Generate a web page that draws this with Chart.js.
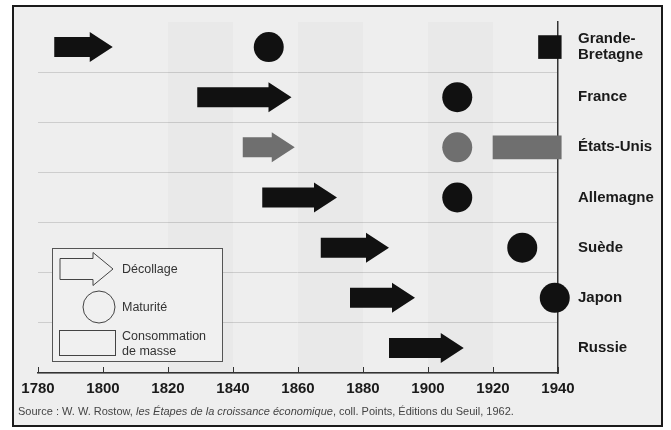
<!DOCTYPE html>
<html>
<head>
<meta charset="utf-8">
<script src="https://cdn.jsdelivr.net/npm/chart.js@4.4.1/dist/chart.umd.min.js"></script>
<style>
  html, body { margin: 0; padding: 0; background: #fff; width: 671px; height: 430px; overflow: hidden; }
  #frame { position: absolute; left: 12px; top: 5px; width: 647px; height: 418px; border: 2px solid #1a1a1a; background: #eeeeee; }
  #graph { position: absolute; left: 0; top: 0; }
  #source { position: absolute; left: 4px; top: 398px; font: 11px "Liberation Sans", Arial, sans-serif; color: #444; white-space: nowrap; }
</style>
</head>
<body>
<div id="frame">
  <canvas id="graph" width="647" height="418"></canvas>
  <div id="source">Source : W. W. Rostow, <i>les Étapes de la croissance économique</i>, coll. Points, Éditions du Seuil, 1962.</div>
</div>
<script>
// pays, de haut en bas
const categories = ['Grande-Bretagne', 'France', 'États-Unis', 'Allemagne', 'Suède', 'Japon', 'Russie'];
const tickLabels = [['Grande-', 'Bretagne'], 'France', 'États-Unis', 'Allemagne', 'Suède', 'Japon', 'Russie'];
// décollage : début et fin de la flèche
const takeoff = [[1785, 1803], [1829, 1858], [1843, 1859], [1849, 1872], [1867, 1888], [1876, 1896], [1888, 1911]];
// maturité
const maturity = [1851, 1909, 1909, 1909, 1929, 1939, null];
// consommation de masse
const massCons = [[1934, 1941], null, [1920, 1941], null, null, null, null];
const years = [1780, 1800, 1820, 1840, 1860, 1880, 1900, 1920, 1940];
const bands = [[1820, 1840], [1860, 1880], [1900, 1920]];

const grey = 'États-Unis';
function colorFor(name) { return name === grey ? '#6f6f6f' : '#111'; }

const bgBands = {
  id: 'bgBands',
  beforeDatasetsDraw(chart) {
    const {ctx, chartArea, scales} = chart;
    ctx.save();
    ctx.fillStyle = 'rgba(0,0,0,0.02)';
    bands.forEach(b => {
      const x1 = scales.x.getPixelForValue(b[0]);
      const x2 = scales.x.getPixelForValue(b[1]);
      ctx.fillRect(x1, chartArea.top, x2 - x1, chartArea.bottom - chartArea.top);
    });
    ctx.restore();
  }
};

function arrowPath(ctx, x0, x1, y, body, head, headLen) {
  ctx.beginPath();
  ctx.moveTo(x0, y - body / 2);
  ctx.lineTo(x1 - headLen, y - body / 2);
  ctx.lineTo(x1 - headLen, y - head / 2);
  ctx.lineTo(x1, y);
  ctx.lineTo(x1 - headLen, y + head / 2);
  ctx.lineTo(x1 - headLen, y + body / 2);
  ctx.lineTo(x0, y + body / 2);
  ctx.closePath();
}

const arrows = {
  id: 'arrows',
  afterDatasetsDraw(chart) {
    const ctx = chart.ctx;
    const meta = chart.getDatasetMeta(0);
    ctx.save();
    meta.data.forEach((bar, i) => {
      if (!takeoff[i]) return;
      const p = bar.getProps(['x', 'y', 'base', 'height'], true);
      arrowPath(ctx, p.base, p.x, p.y, p.height, 30, 23);
      ctx.fillStyle = colorFor(categories[i]);
      ctx.fill();
    });
    ctx.restore();
  }
};

const xTicksUp = {
  id: 'xTicksUp',
  afterDraw(chart) {
    const {ctx, scales, chartArea} = chart;
    ctx.save();
    ctx.strokeStyle = '#333';
    ctx.lineWidth = 1;
    scales.x.ticks.forEach(t => {
      const x = Math.round(scales.x.getPixelForValue(t.value)) + 0.5;
      ctx.beginPath();
      ctx.moveTo(x, chartArea.bottom);
      ctx.lineTo(x, chartArea.bottom - 6);
      ctx.stroke();
    });
    ctx.restore();
  }
};

const boxLegend = {
  id: 'boxLegend',
  afterDraw(chart) {
    const ctx = chart.ctx;
    const L = chart.chartArea.left + 14, T = chart.chartArea.top + 226;
    ctx.save();
    ctx.fillStyle = '#f0f0f0';
    ctx.strokeStyle = '#555';
    ctx.lineWidth = 1;
    ctx.fillRect(L, T, 170, 113);
    ctx.strokeRect(L + 0.5, T + 0.5, 170, 113);
    ctx.strokeStyle = '#444';
    arrowPath(ctx, L + 8, L + 61, T + 21, 21, 33, 20);
    ctx.stroke();
    ctx.beginPath();
    ctx.arc(L + 47, T + 59, 16, 0, Math.PI * 2);
    ctx.stroke();
    ctx.strokeRect(L + 7.5, T + 82.5, 56, 25);
    ctx.fillStyle = '#333';
    ctx.font = '12.5px "Liberation Sans", Arial, sans-serif';
    ctx.textBaseline = 'middle';
    ctx.fillText('Décollage', L + 70, T + 22);
    ctx.fillText('Maturité', L + 70, T + 60);
    ctx.fillText('Consommation', L + 70, T + 89);
    ctx.fillText('de masse', L + 70, T + 104);
    ctx.restore();
  }
};

const maturityPoints = [];
categories.forEach((c, i) => { if (maturity[i] != null) maturityPoints.push({x: maturity[i], y: c}); });

var g = document.getElementById('graph').getContext('2d');

var chart = new Chart(g, {
  type: 'bar',
  data: {
    labels: categories,
    datasets: [
      {
        label: 'Décollage',
        data: takeoff,
        backgroundColor: 'rgba(0,0,0,0)',
        barThickness: 20,
        grouped: false,
        clip: false
      },
      {
        label: 'Consommation de masse',
        data: massCons,
        backgroundColor: ctx => colorFor(categories[ctx.dataIndex]),
        barThickness: 23,
        grouped: false,
        clip: false
      },
      {
        type: 'scatter',
        label: 'Maturité',
        data: maturityPoints,
        pointRadius: 15,
        pointHoverRadius: 15,
        pointBorderWidth: 0,
        backgroundColor: ctx => colorFor(ctx.raw ? ctx.raw.y : ''),
        borderColor: 'rgba(0,0,0,0)',
        clip: false
      }
    ]
  },
  options: {
    indexAxis: 'y',
    responsive: false,
    animation: false,
    events: [],
    layout: { padding: { left: 24, top: 13, right: 0, bottom: 22 } },
    plugins: { legend: { display: false }, tooltip: { enabled: false } },
    scales: {
      x: {
        type: 'linear',
        min: 1780,
        max: 1940,
        afterBuildTicks: s => { s.ticks = years.map(v => ({value: v})); },
        afterFit: s => { s.height = 30; s.paddingLeft = 0; s.paddingRight = 0; },
        grid: { drawOnChartArea: false, drawTicks: false },
        border: { color: '#333', width: 1.5 },
        ticks: {
          padding: 7,
          color: '#1a1a1a',
          font: { family: '"Liberation Sans", Arial, sans-serif', size: 15, weight: 'bold' },
          callback: v => String(v)
        }
      },
      y: {
        type: 'category',
        position: 'right',
        afterFit: s => { s.width = 103; s.paddingTop = 0; s.paddingBottom = 0; },
        grid: {
          offset: true,
          drawTicks: false,
          color: ctx => ctx.index === 0 ? 'rgba(0,0,0,0)' : '#cdcdcd',
          lineWidth: 1
        },
        border: { color: '#333', width: 1.5 },
        ticks: {
          padding: 20,
          color: '#1a1a1a',
          font: { family: '"Liberation Sans", Arial, sans-serif', size: 15, weight: 'bold', lineHeight: 1.1 },
          callback: (v, i) => tickLabels[i]
        }
      }
    }
  },
  plugins: [bgBands, arrows, xTicksUp, boxLegend]
});
</script>
</body>
</html>
